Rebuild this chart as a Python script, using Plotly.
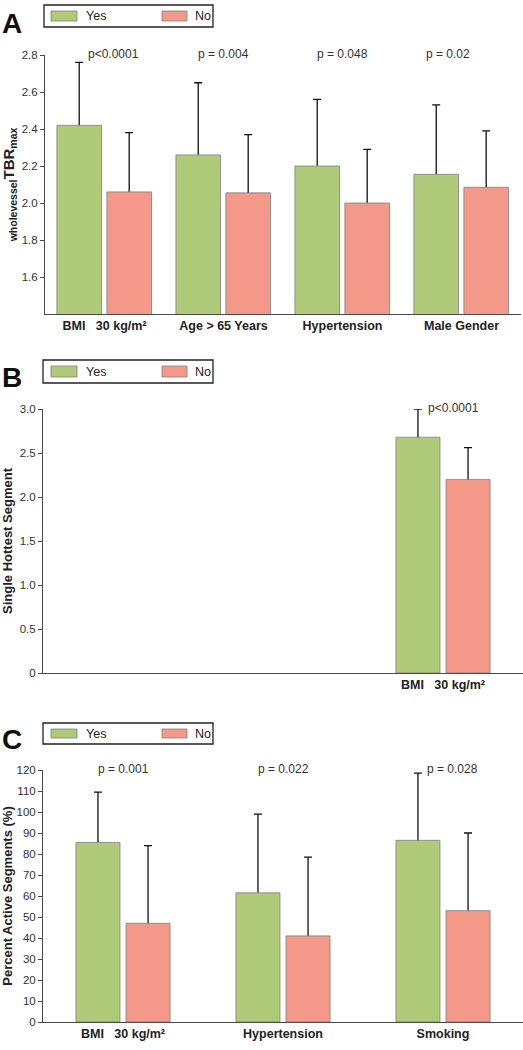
import plotly.graph_objects as go

W, H = 523, 1050

# ---------------- data ----------------
A_categories = ["<b>BMI   30 kg/m²</b>", "<b>Age > 65 Years</b>", "<b>Hypertension</b>", "<b>Male Gender</b>"]
A_yes = [2.42, 2.26, 2.20, 2.155]
A_yes_err_top = [2.76, 2.65, 2.56, 2.53]
A_no = [2.06, 2.055, 2.00, 2.085]
A_no_err_top = [2.38, 2.37, 2.29, 2.39]
A_pvalues = ["p<0.0001", "p = 0.004", "p = 0.048", "p = 0.02"]
A_ticks = [1.6, 1.8, 2.0, 2.2, 2.4, 2.6, 2.8]

B_categories = ["<b>BMI   30 kg/m²</b>"]
B_yes = [2.68]
B_yes_err_top = [3.0]
B_no = [2.20]
B_no_err_top = [2.56]
B_pvalues = ["p<0.0001"]
B_ticks = [0, 0.5, 1.0, 1.5, 2.0, 2.5, 3.0]
B_ticktext = ["0", "0.5", "1.0", "1.5", "2.0", "2.5", "3.0"]

C_categories = ["<b>BMI   30 kg/m²</b>", "<b>Hypertension</b>", "<b>Smoking</b>"]
C_yes = [85.5, 61.5, 86.5]
C_yes_err_top = [109.5, 99.0, 118.5]
C_no = [47.0, 41.0, 53.0]
C_no_err_top = [84.0, 78.5, 90.0]
C_pvalues = ["p = 0.001", "p = 0.022", "p = 0.028"]
C_ticks = list(range(0, 121, 10))

# ---------------- style ----------------
GREEN = "#AFCB7A"
RED = "#F4998A"
EDGE = "#808080"
AXIS = "#4a4a4a"
TXT = "#222222"
FONT = "Liberation Sans"


def px_x(p):
    return p / W


def px_y(p):
    return 1 - p / H


fig = go.Figure()

panels = [
    # suffix, categories, yes, yes_err, no, no_err, width, offY, offN, xdom, ydom, yrange, xrange
    ("", A_categories, A_yes, A_yes_err_top, A_no, A_no_err_top, 0.375, -0.40, 0.02,
     (45, 521), (55, 314), [1.4, 2.8], [-0.5, 3.5]),
    ("2", B_categories, B_yes, B_yes_err_top, B_no, B_no_err_top, 0.275, -0.294, 0.019,
     (43, 523), (409, 673), [0, 3.0], [-2.5, 0.5]),
    ("3", C_categories, C_yes, C_yes_err_top, C_no, C_no_err_top, 0.275, -0.294, 0.019,
     (43, 523), (770, 1022), [0, 120], [-0.5, 2.5]),
]

# whiskers first (transparent bars carrying the error bars), real bars drawn on top
for suf, cats, yes, yes_top, no, no_top, bw, offy, offn, xd, yd, yr, xr in panels:
    for vals, tops, off in [(yes, yes_top, offy), (no, no_top, offn)]:
        up = [t - v for v, t in zip(vals, tops)]
        down = [(v - yr[0]) / 2 for v in vals]
        fig.add_trace(go.Bar(
            x=cats, y=vals, width=bw, offset=off,
            marker=dict(color="rgba(0,0,0,0)", line=dict(width=0)),
            error_y=dict(type="data", array=up, arrayminus=down, symmetric=False,
                         color="#111111", thickness=1.3, width=4),
            xaxis="x" + suf, yaxis="y" + suf, showlegend=False, hoverinfo="skip",
        ))
    for name, vals, col, off in [("Yes", yes, GREEN, offy), ("No", no, RED, offn)]:
        fig.add_trace(go.Bar(
            x=cats, y=vals, name=name, width=bw, offset=off,
            marker=dict(color=col, line=dict(color=EDGE, width=0.8)),
            xaxis="x" + suf, yaxis="y" + suf, showlegend=False,
        ))

axis_common = dict(showline=True, linecolor=AXIS, linewidth=1, showgrid=False, zeroline=False,
                   automargin=False)

layout = dict(
    width=W, height=H, margin=dict(l=0, r=0, t=0, b=0),
    plot_bgcolor="white", paper_bgcolor="white", barmode="overlay",
    font=dict(family=FONT, color=TXT), showlegend=False,
)

yinfo = [
    (A_ticks, [f"{t:.1f}" for t in A_ticks], "<b><sub>wholevessel</sub>TBR<sub>max</sub></b>", 15),
    (B_ticks, B_ticktext, "<b>Single Hottest Segment</b>", 13),
    (C_ticks, [str(t) for t in C_ticks], "<b>Percent Active Segments (%)</b>", 13),
]
for (suf, cats, *_r), (tv, tt, title, tsize) in zip(panels, yinfo):
    xd, yd, yr, xr = _r[-4], _r[-3], _r[-2], _r[-1]
    layout["xaxis" + suf] = dict(
        **axis_common, domain=[px_x(xd[0]), px_x(xd[1])], anchor="y" + suf,
        type="category", categoryorder="array", categoryarray=cats, range=xr,
        ticks="", tickfont=dict(size=12.5, color=TXT, family=FONT),
    )
    layout["yaxis" + suf] = dict(
        **axis_common, domain=[px_y(yd[1]), px_y(yd[0])], anchor="x" + suf, range=yr,
        tickvals=tv, ticktext=tt, ticks="outside", ticklen=4, tickcolor=AXIS,
        tickfont=dict(size=11.5, color="#333333", family=FONT),
        title=dict(text=title, font=dict(size=tsize, color=TXT, family=FONT), standoff=15),
    )

annotations = []
shapes = []

# p-values, placed over the categories at the top of each y-range
p_shift = {"": [9, 0, 0, -14], "2": [10], "3": [0, 0, 9]}
for (suf, cats, *_r), pv in zip(panels, [A_pvalues, B_pvalues, C_pvalues]):
    ytop = _r[-2][1]
    for c, t, sh in zip(cats, pv, p_shift[suf]):
        annotations.append(dict(x=c, y=ytop, xref="x" + suf, yref="y" + suf, text=t, showarrow=False,
                                xanchor="center", yanchor="middle", xshift=sh, yshift=1,
                                font=dict(size=12, color="#333333", family=FONT)))

# panel letters + legends
for letter, ytop_px, box in [("A", 6, (5, 27)), ("B", 360, (360, 383)), ("C", 722, (723, 744))]:
    annotations.append(dict(x=0, y=px_y(ytop_px), xref="paper", yref="paper", text=f"<b>{letter}</b>",
                            showarrow=False, xanchor="left", yanchor="top",
                            font=dict(size=28, color="#111111", family=FONT)))
    x0 = 44 if letter == "A" else 43
    y0, y1 = box
    shapes.append(dict(type="rect", xref="paper", yref="paper", x0=px_x(x0), x1=px_x(213),
                       y0=px_y(y1), y1=px_y(y0), line=dict(color="#222222", width=1.3), fillcolor="white"))
    ym0, ym1 = y0 + 6, y1 - 6
    for sx0, sx1, col, lab, tx in [(51, 77, GREEN, "Yes", 84), (162, 187, RED, "No", 193)]:
        shapes.append(dict(type="rect", xref="paper", yref="paper", x0=px_x(sx0), x1=px_x(sx1),
                           y0=px_y(ym1), y1=px_y(ym0), line=dict(color=EDGE, width=0.8), fillcolor=col))
        annotations.append(dict(x=px_x(tx), y=px_y((y0 + y1) / 2), xref="paper", yref="paper", text=lab,
                                showarrow=False, xanchor="left", yanchor="middle",
                                font=dict(size=12.5, color=TXT, family=FONT)))

layout["annotations"] = annotations
layout["shapes"] = shapes
fig.update_layout(**layout)
fig.write_html("out.html", config={"displayModeBar": False},
               post_script="document.body.style.margin='0';")
